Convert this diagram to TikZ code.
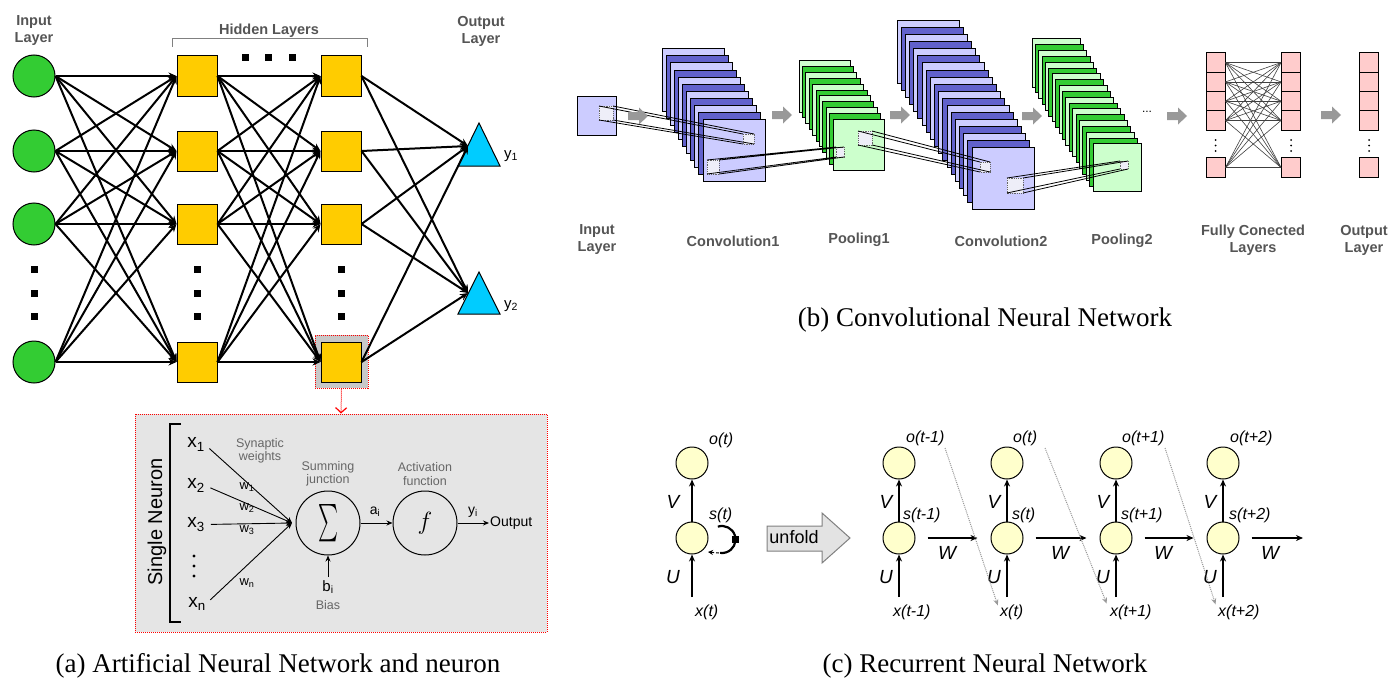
\documentclass[tikz,border=0pt]{standalone}
\usepackage{fontspec}
\usepackage{graphicx}
\setmainfont{Liberation Sans}
\newfontfamily\capfont{Liberation Serif}
\usetikzlibrary{arrows.meta}
\definecolor{ingreen}{HTML}{33CC33}
\definecolor{hidyel}{HTML}{FFCC00}
\definecolor{outcyan}{HTML}{00CCFF}
\definecolor{lblue}{HTML}{CCCCFF}
\definecolor{dblue}{HTML}{6161CC}
\definecolor{lgreen}{HTML}{CCFFCC}
\definecolor{dgreen}{HTML}{33CC33}
\definecolor{fcpink}{HTML}{FFCCCC}
\definecolor{rnnyel}{HTML}{FFFFCC}
\definecolor{lblgray}{HTML}{555555}
\definecolor{txtgray}{HTML}{666666}
\definecolor{boxgray}{HTML}{E5E5E5}
\definecolor{hlgray}{HTML}{C8C8C8}
\definecolor{arrgray}{HTML}{999999}
\definecolor{kfill}{HTML}{EEEEF8}
\tikzset{garrow/.pic={\fill[arrgray] (0,-4) -- (11,-4) -- (11,-8.5) -- (20,0) -- (11,8.5) -- (11,4) -- (0,4) -- cycle;}}
\newcommand\fmstack[8]{%
  \foreach \k in {0,...,#6} {%
    \ifodd\k\def\fmcol{#8}\else\def\fmcol{#7}\fi
    \draw[line width=1pt,fill=\fmcol] ({#1+#3*\k},{#2+#4*\k}) rectangle ++(#5,#5);
  }}
\newcommand\fmtube[8]{%
  \draw[kbox] (#1,#2) rectangle (#3,#4);
  \draw[kbox] (#5,#6) rectangle (#7,#8);
  \draw[tube] (#1,#2) -- (#5,#6) (#3,#2) -- (#7,#6) (#1,#4) -- (#5,#8) (#3,#4) -- (#7,#8);
}
\begin{document}
\begin{tikzpicture}[x=1pt,y=-1pt,
  annedge/.style={line width=2pt,-{Stealth[length=8pt,width=7pt]}},
  innode/.style={circle,draw,line width=1pt,fill=ingreen,minimum size=42pt,inner sep=0pt},
  hnode/.style={rectangle,draw,line width=1pt,fill=hidyel,minimum size=40pt,inner sep=0pt},
  dotsq/.style={fill=black,minimum size=7pt,inner sep=0pt},
  rdot/.style={circle,fill=black,minimum size=#1,inner sep=0pt},
  lbl/.style={font=\fontsize{14.5}{17}\selectfont\bfseries,text=lblgray,align=center,inner sep=0pt},
  gl/.style={font=\fontsize{12.5}{13.5}\selectfont,text=txtgray,align=center,inner sep=0pt},
  xl/.style={font=\fontsize{19}{20}\selectfont,inner sep=0pt},
  wl/.style={font=\fontsize{13}{14}\selectfont,inner sep=0pt},
  sl/.style={font=\fontsize{14}{15}\selectfont,inner sep=0pt},
  thinarr/.style={line width=0.9pt,-{Stealth[length=6pt,width=5pt]}},
  neuc/.style={circle,draw,line width=1pt,minimum size=64pt,inner sep=0pt},
  capt/.style={font=\capfont\fontsize{27}{30}\selectfont,inner sep=0pt},
  fcbox/.style={draw,line width=1pt,fill=fcpink,minimum width=19pt,minimum height=19.3pt,inner sep=0pt},
  fcline/.style={line width=0.6pt,draw=black!75},
  kbox/.style={fill=kfill,draw=black!60,densely dotted,line width=0.8pt},
  tube/.style={line width=0.8pt},
  rnode/.style={circle,draw,line width=1pt,fill=rnnyel,minimum size=32pt,inner sep=0pt},
  rarr/.style={line width=2.2pt,-{Stealth[length=7pt,width=6pt]}},
  rlab/.style={font=\fontsize{16}{18}\selectfont\itshape,inner sep=0pt},
  rbig/.style={font=\fontsize{19}{20}\selectfont\itshape,inner sep=0pt},
  gdot/.style={draw=black!40,densely dotted,line width=1pt,-{Stealth[length=6pt,width=5pt]}}
]
\useasboundingbox (0,0) rectangle (1391,685);
\fill[white] (0,0) rectangle (1391,685);

% ================= (a) ANN =================
\foreach \y/\n in {76/1,151/2,224/3,362/4}{
  \node[innode] (i\n) at (34,\y) {};
  \node[hnode] (a\n) at (197,\y) {};
}
\node[draw=red,densely dotted,line width=1pt,fill=hlgray,minimum size=53pt,inner sep=0pt] (hl) at (341.5,361.5) {};
\foreach \y/\n in {76/1,151/2,224/3,362/4} \node[hnode] (b\n) at (341,\y) {};
\draw[line width=1pt,fill=outcyan] (479,123) -- (500,166) -- (458,166) -- cycle;
\draw[line width=1pt,fill=outcyan] (479,272) -- (500,314) -- (458,314) -- cycle;
\coordinate (y1) at (468,146);
\coordinate (y2) at (468,293);
\foreach \i in {1,...,4}{
  \foreach \j in {1,...,4}{
    \draw[annedge] (i\i.east) -- (a\j.west);
    \draw[annedge] (a\i.east) -- (b\j.west);
  }
  \draw[annedge] (b\i.east) -- (y1);
  \draw[annedge] (b\i.east) -- (y2);
}
\foreach \y [count=\c] in {269,293,316}{
  \node[dotsq] (di\c) at (34,\y) {};
  \node[dotsq] (da\c) at (197,\y) {};
  \node[dotsq] (db\c) at (341,\y) {};
}
\foreach \x [count=\c] in {245,268,292} \node[dotsq] (dt\c) at (\x,58) {};
\node[lbl] (linl) at (34,31) {Input\\Layer};
\node[lbl] (lhid) at (269,31) {Hidden Layers};
\draw[draw=gray,line width=1pt] (172,47) -- (172,39) -- (367,39) -- (367,47);
\node[lbl] (lout) at (481,31) {Output\\Layer};
\node[font=\fontsize{15}{16}\selectfont,inner sep=0pt] (ly1) at (511,156) {y\textsubscript{1}};
\node[font=\fontsize{15}{16}\selectfont,inner sep=0pt] (ly2) at (511,306) {y\textsubscript{2}};

% single neuron
\node[draw=red,densely dotted,line width=1pt,fill=boxgray,minimum width=412pt,minimum height=218pt,inner sep=0pt] (nbox) at (341,523) {};
\draw[red,densely dotted,line width=1pt,-{Straight Barb[length=5pt,width=11pt,line width=1.2pt]}] (hl.south) -- (nbox.north);
\node[rotate=90,font=\fontsize{20}{22}\selectfont,inner sep=0pt] (sn) at (157,522) {Single Neuron};
\draw[line width=2pt] (181,424) -- (170,424) -- (170,622) -- (181,622);
\node[xl] (x1) at (196,444.5) {x\textsubscript{1}};
\node[xl] (x2) at (196,485.5) {x\textsubscript{2}};
\node[xl] (x3) at (196,524.5) {x\textsubscript{3}};
\foreach \y [count=\c] in {556,566,576} \node[rdot=3.2pt] (xd\c) at (194,\y) {};
\node[xl] (xn) at (197,604) {x\textsubscript{n}};
\coordinate (jn) at (292,523);
\foreach \n in {x1,x2,x3,xn} \draw[thinarr,shorten <=6pt] (\n.east) -- (jn);
\node[wl] (w1) at (247,487) {w\textsubscript{1}};
\node[wl] (w2) at (247,508) {w\textsubscript{2}};
\node[wl] (w3) at (247,530) {w\textsubscript{3}};
\node[wl] (wn) at (247,583) {w\textsubscript{n}};
\node[gl] (syn) at (260,451) {Synaptic\\weights};
\node[neuc] (sig) at (328,523) {\resizebox{20pt}{28pt}{$\sum$}};
\node[gl] (sumj) at (328,474) {Summing\\junction};
\node[neuc] (act) at (425,523) {\fontsize{34}{34}\selectfont$f$};
\node[gl] (actf) at (425,474) {Activation\\function};
\node[font=\fontsize{14}{16}\selectfont,anchor=west,inner sep=1pt] (outp) at (489,523) {Output};
\node[sl] (ai) at (375,512) {a\textsubscript{i}};
\node[sl] (yi) at (473,512) {y\textsubscript{i}};
\node[font=\fontsize{15}{16}\selectfont,inner sep=0pt] (bi) at (328,587) {b\textsubscript{i}};
\node[gl] (bias) at (328,605) {Bias};
\draw[thinarr] (sig.east) -- (act.west);
\draw[thinarr] (act.east) -- (outp.west);
\draw[thinarr,shorten <=3pt] (bi.north) -- (sig.south);
\node[capt] (capa) at (278,666) {(a) Artificial Neural Network and neuron};

% ================= (b) CNN =================
\draw[line width=1pt,fill=lblue] (577,96) rectangle (616,135);
\fmstack{662}{49}{4.1}{7}{62}{10}{lblue}{dblue}
\fmstack{799}{61}{3.4}{5.8}{51}{10}{lgreen}{dgreen}
\fmstack{897}{21}{4.17}{7}{62}{18}{lblue}{dblue}
\fmstack{1032}{39}{3.39}{5.83}{48}{18}{lgreen}{dgreen}
\fmtube{599}{106}{613}{120}{743}{134}{754}{144}
\fmtube{707}{160}{719}{174}{836}{147}{844}{157}
\fmtube{858}{131}{872}{145}{980}{162}{990}{172}
\fmtube{1007}{178}{1023}{193}{1120}{161}{1128}{169}
\pic at (628,116) {garrow};
\pic at (772,115) {garrow};
\pic at (890,115) {garrow};
\pic at (1022,116) {garrow};
\pic at (1167,116) {garrow};
\pic at (1321,115) {garrow};
\node[font=\fontsize{12}{12}\selectfont,inner sep=0pt] (cdots) at (1147,112) {...};
\foreach \y [count=\r] in {62.6,81.9,101.2,120.5,167.5}{
  \node[fcbox] (L\r) at (1215.5,\y) {};
  \node[fcbox] (R\r) at (1291,\y) {};
  \node[fcbox] (O\r) at (1369,\y) {};
}
\foreach \i in {1,...,5} \foreach \j in {1,...,5} \draw[fcline] (L\i.east) -- (R\j.west);
\foreach \y [count=\c] in {140,145.5,151}{
  \node[rdot=2pt] (fa\c) at (1215.5,\y) {};
  \node[rdot=2pt] (fb\c) at (1291,\y) {};
  \node[rdot=2pt] (fc\c) at (1369,\y) {};
}
\node[lbl] (cin) at (597,240) {Input\\Layer};
\node[lbl] (cc1) at (733,241) {Convolution1};
\node[lbl] (cp1) at (859,240) {Pooling1};
\node[lbl] (cc2) at (1001,241) {Convolution2};
\node[lbl] (cp2) at (1122,241) {Pooling2};
\node[lbl] (cfc) at (1253,240) {Fully Conected\\Layers};
\node[lbl] (cout) at (1364,240) {Output\\Layer};
\node[capt] (capb) at (985,320) {(b) Convolutional Neural Network};

% ================= (c) RNN =================
\node[rnode] (fo) at (692,463) {};
\node[rnode] (fs) at (692,538) {};
\coordinate (fxa) at (692,597);
\draw[rarr] (fs.north) -- (fo.south);
\draw[rarr] (fxa) -- (fs.south);
\node[rlab,anchor=west] (fol) at (709,440) {o(t)};
\node[rlab,anchor=west] (fsl) at (709,515) {s(t)};
\node[rlab,anchor=west] (fxl) at (695,612) {x(t)};
\node[rbig] (fV) at (673,502) {V};
\node[rbig] (fU) at (673,577) {U};
\draw[line width=2.2pt] (722,539.5) ++(252:13.5) arc[start angle=252,end angle=458,radius=13.5];
\draw[line width=1pt,densely dashed,-{Stealth[length=5pt,width=5pt]}] (719,553) -- (708,552);
\node[fill=black,minimum size=7pt,inner sep=0pt] (sq) at (735,539) {};
\draw[fill=gray!22,draw=gray,line width=1pt] (767,526) -- (822,526) -- (822,513) -- (850,538) -- (822,563) -- (822,551) -- (767,551) -- cycle;
\node[font=\fontsize{18}{20}\selectfont,inner sep=0pt] (unf) at (794,537) {unfold};

\foreach \X [count=\c] in {899,1007,1116,1223}{
  \node[rnode] (o\c) at (\X,463) {};
  \node[rnode] (s\c) at (\X,538) {};
  \coordinate (u\c) at (\X,597);
  \draw[rarr] (s\c.north) -- (o\c.south);
  \draw[rarr] (u\c) -- (s\c.south);
  \node[rbig] (V\c) at ({\X-13},502) {V};
  \node[rbig] (U\c) at ({\X-13},577) {U};
}
\node[rlab,anchor=west] (ol1) at (906,438) {o(t-1)};
\node[rlab,anchor=west] (ol2) at (1013,438) {o(t)};
\node[rlab,anchor=west] (ol3) at (1122,438) {o(t+1)};
\node[rlab,anchor=west] (ol4) at (1230,438) {o(t+2)};
\node[rlab,anchor=west] (sl1) at (903,515) {s(t-1)};
\node[rlab,anchor=west] (sl2) at (1012,515) {s(t)};
\node[rlab,anchor=west] (sl3) at (1121,515) {s(t+1)};
\node[rlab,anchor=west] (sl4) at (1229,515) {s(t+2)};
\node[rlab,anchor=west] (xl1) at (893,612) {x(t-1)};
\node[rlab,anchor=west] (xl2) at (1000,612) {x(t)};
\node[rlab,anchor=west] (xl3) at (1110,612) {x(t+1)};
\node[rlab,anchor=west] (xl4) at (1218,612) {x(t+2)};
\draw[rarr,shorten <=12pt,shorten >=13pt] (s1.east) -- (s2.west);
\draw[rarr,shorten <=12pt,shorten >=13pt] (s2.east) -- (s3.west);
\draw[rarr,shorten <=12pt,shorten >=13pt] (s3.east) -- (s4.west);
\coordinate (wend) at (1303,538);
\draw[rarr,shorten <=12pt] (s4.east) -- (wend);
\node[rbig] (W1) at (947,553) {W};
\node[rbig] (W2) at (1060,553) {W};
\node[rbig] (W3) at (1163,553) {W};
\node[rbig] (W4) at (1270,553) {W};
\coordinate (g1) at (945,448);
\coordinate (g2) at (1045,448);
\coordinate (g3) at (1165,448);
\draw[gdot,shorten >=7pt] (g1) -- (xl2.west);
\draw[gdot,shorten >=9pt] (g2) -- (xl3.west);
\draw[gdot,shorten >=8pt] (g3) -- (xl4.west);
\node[capt] (capc) at (985,666) {(c) Recurrent Neural Network};
\end{tikzpicture}
\end{document}
